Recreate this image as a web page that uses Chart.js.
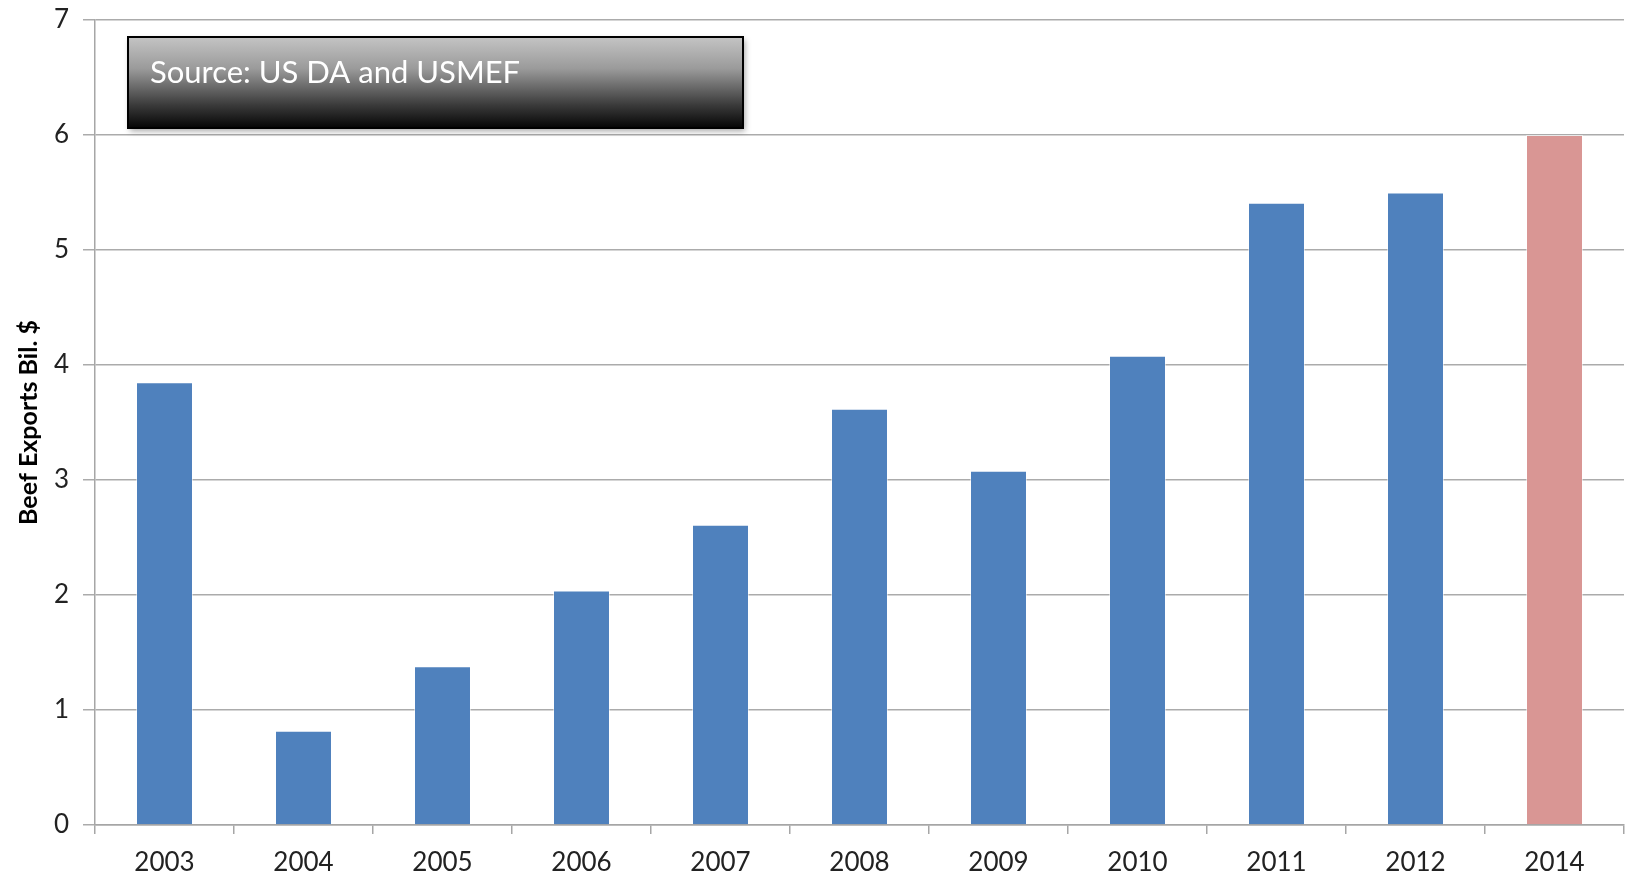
<!DOCTYPE html>
<html>
<head>
<meta charset="utf-8">
<script src="https://cdn.jsdelivr.net/npm/chart.js@4"></script>
<style>
  html, body { margin: 0; padding: 0; background: #fff; }
  #wrap { width: 1627px; height: 879px; position: relative; }
</style>
</head>
<body>
<div id="wrap"><canvas id="beefChart"></canvas></div>
<script>
// data
const years = ["2003", "2004", "2005", "2006", "2007", "2008", "2009", "2010", "2011", "2012", "2014"];
const exportsBil = [3.85, 0.82, 1.38, 2.04, 2.61, 3.62, 3.08, 4.08, 5.41, 5.50, 6.0];
const barColors = ["#4F81BD", "#4F81BD", "#4F81BD", "#4F81BD", "#4F81BD", "#4F81BD",
  "#4F81BD", "#4F81BD", "#4F81BD", "#4F81BD", "#D99694"];
const yTicks = [0, 1, 2, 3, 4, 5, 6, 7];
const sourceNote = "Source: US DA and USMEF";

const FONT = "Lato, 'Open Sans', sans-serif";

// grey gradient box with the source note
const sourceBox = {
  id: "sourceBox",
  afterDraw(chart) {
    const c = chart.ctx;
    const x = 128, y = 37, w = 615, h = 91;
    c.save();
    c.shadowColor = "rgba(0,0,0,0.35)";
    c.shadowBlur = 6;
    c.shadowOffsetX = 2;
    c.shadowOffsetY = 3;
    const g = c.createLinearGradient(0, y, 0, y + h);
    g.addColorStop(0, "#c4c4c4");
    g.addColorStop(0.35, "#9a9a9a");
    g.addColorStop(0.75, "#3a3a3a");
    g.addColorStop(1, "#050505");
    c.fillStyle = g;
    c.fillRect(x, y, w, h);
    c.shadowColor = "transparent";
    c.lineWidth = 2;
    c.strokeStyle = "#000";
    c.strokeRect(x, y, w, h);
    c.fillStyle = "#fff";
    c.font = "31px " + FONT;
    c.textBaseline = "alphabetic";
    c.fillText(sourceNote, 150, 83);
    c.restore();
  }
};

new Chart(document.getElementById("beefChart"), {
  type: "bar",
  data: {
    labels: years,
    datasets: [{
      label: "Beef Exports Bil. $",
      data: exportsBil,
      backgroundColor: barColors,
      borderColor: "rgba(255,255,255,0.5)",
      borderWidth: 1,
      barPercentage: 0.41,
      categoryPercentage: 1.0
    }]
  },
  options: {
    responsive: true,
    maintainAspectRatio: false,
    animation: false,
    layout: { padding: { top: 20, right: 3, left: 0, bottom: 0 } },
    plugins: {
      legend: { display: false },
      tooltip: { enabled: false }
    },
    scales: {
      x: {
        grid: {
          offset: true,
          drawOnChartArea: false,
          drawTicks: true,
          tickLength: 9,
          color: "#a6a6a6",
          lineWidth: 1.5
        },
        border: { color: "#a6a6a6", width: 1.5 },
        ticks: {
          color: "#222",
          font: { family: FONT, size: 26 },
          padding: 13,
          maxRotation: 0
        },
        afterFit(scale) { scale.height = 54; }
      },
      y: {
        min: 0,
        max: 7,
        afterBuildTicks(scale) { scale.ticks = yTicks.map(v => ({ value: v })); },
        grid: {
          color: "#ababab",
          lineWidth: 1.5,
          tickLength: 12
        },
        border: { color: "#a6a6a6", width: 1.5 },
        ticks: {
          color: "#222",
          font: { family: FONT, size: 26 },
          padding: 14
        },
        title: {
          display: true,
          text: "Beef Exports Bil. $",
          color: "#000",
          font: { family: FONT, size: 25, weight: "bold" },
          padding: { top: 14, bottom: 4 }
        },
        afterFit(scale) {
          scale.width = 95;
          scale.paddingTop = 0;
          scale.paddingBottom = 0;
        }
      }
    }
  },
  plugins: [sourceBox]
});
</script>
</body>
</html>
